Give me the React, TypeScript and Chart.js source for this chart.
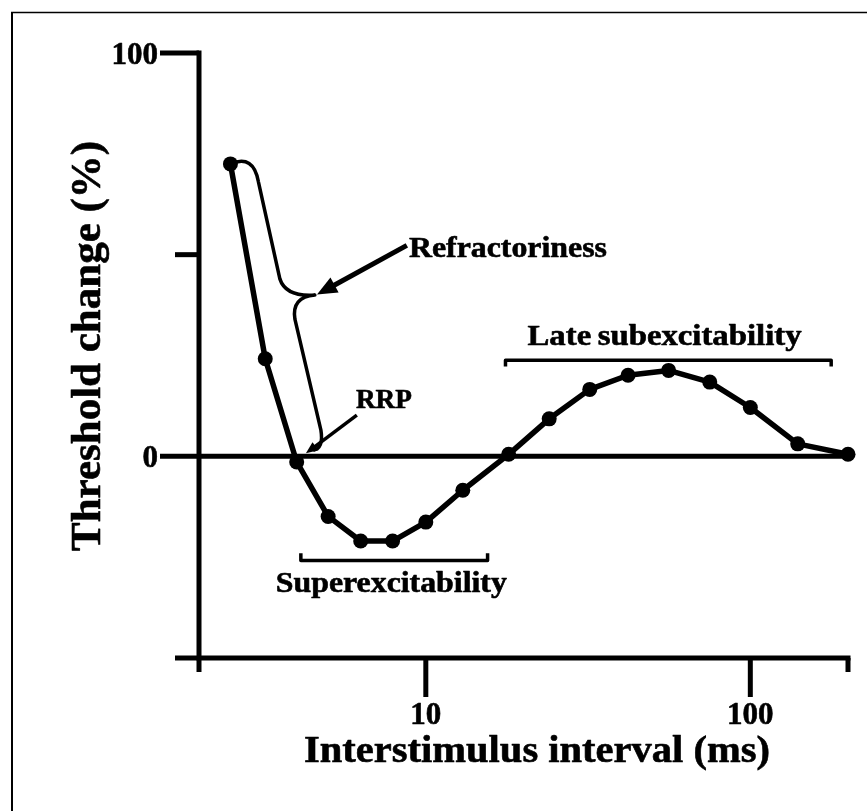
import React, { useEffect, useRef } from "react";
import { Chart, registerables } from "chart.js";

Chart.register(...registerables);

// Paired-pulse recovery cycle: threshold change vs interstimulus interval
const intervals = [2.5, 3.2, 4, 5, 6.3, 7.9, 10, 13, 18, 24, 32, 42, 56, 75, 100, 140, 200];
const thresholdChange = [72.5, 24.2, -1.4, -14.9, -21, -21, -16.3, -8.4, 0.5, 9.3, 16.6, 20.1, 21.3, 18.4, 12.1, 3.1, 0.5];

const xTicks = [2, 10, 100, 200];
const xTickLabels = ["", "10", "100", ""];
const yTicks = [100, 50, 0, -50];
const yTickLabels = ["100", "", "0", ""];

const xTitle = "Interstimulus interval (ms)";
const yTitle = "Threshold change (%)";

const FONT = '"Liberation Serif", "Times New Roman", serif';

type Ctx = CanvasRenderingContext2D;

function drawText(
  ctx: Ctx,
  text: string,
  x: number,
  y: number,
  size: number,
  align: CanvasTextAlign,
  width?: number
) {
  ctx.save();
  ctx.font = `bold ${size}px ${FONT}`;
  const natural = ctx.measureText(text).width;
  const sx = width ? width / natural : 1;
  ctx.translate(x, y);
  ctx.scale(sx, 1);
  ctx.textAlign = align;
  ctx.textBaseline = "alphabetic";
  ctx.fillStyle = "#000";
  ctx.strokeStyle = "#000";
  ctx.lineWidth = 0.6;
  ctx.lineJoin = "round";
  ctx.fillText(text, 0, 0);
  ctx.strokeText(text, 0, 0);
  ctx.restore();
}

function arrow(ctx: Ctx, x0: number, y0: number, x1: number, y1: number, lw: number, headLen: number, headW: number) {
  const ang = Math.atan2(y1 - y0, x1 - x0);
  const bx = x1 - Math.cos(ang) * headLen;
  const by = y1 - Math.sin(ang) * headLen;
  ctx.save();
  ctx.lineWidth = lw;
  ctx.lineCap = "butt";
  ctx.beginPath();
  ctx.moveTo(x0, y0);
  ctx.lineTo(bx + Math.cos(ang) * 2, by + Math.sin(ang) * 2);
  ctx.stroke();
  ctx.beginPath();
  ctx.moveTo(x1, y1);
  ctx.lineTo(bx + Math.sin(ang) * headW / 2, by - Math.cos(ang) * headW / 2);
  ctx.lineTo(bx - Math.sin(ang) * headW / 2, by + Math.cos(ang) * headW / 2);
  ctx.closePath();
  ctx.fill();
  ctx.restore();
}

const framePlugin = {
  id: "frame",
  beforeDatasetsDraw(chart: Chart) {
    const ctx = chart.ctx as Ctx;
    const xs = chart.scales.x;
    const ys = chart.scales.y;
    const px = (v: number) => xs.getPixelForValue(v);
    const py = (v: number) => ys.getPixelForValue(v);
    const left = px(2);
    const right = px(200);
    const top = py(100);
    const bottom = py(-50);

    ctx.save();
    ctx.strokeStyle = "#000";
    ctx.fillStyle = "#000";

    // figure frame (top and left edges)
    ctx.lineWidth = 1.5;
    ctx.beginPath();
    ctx.moveTo(11, 12.5);
    ctx.lineTo(867, 12.5);
    ctx.stroke();
    ctx.lineWidth = 2;
    ctx.beginPath();
    ctx.moveTo(12, 12);
    ctx.lineTo(12, 811);
    ctx.stroke();

    // axes
    ctx.lineWidth = 5;
    ctx.lineCap = "butt";
    ctx.beginPath();
    ctx.moveTo(left, top - 2.5);
    ctx.lineTo(left, bottom);
    ctx.moveTo(left - 2.5, bottom);
    ctx.lineTo(right + 2.5, bottom);
    ctx.stroke();

    // y ticks
    yTicks.forEach((v, i) => {
      const major = yTickLabels[i] !== "";
      const y = py(v);
      ctx.beginPath();
      ctx.moveTo(left - (major ? 39 : 24), y);
      ctx.lineTo(v === 0 ? right : left, y);
      ctx.stroke();
      if (major) drawText(ctx, yTickLabels[i], left - 41, y + 11, 31, "right");
    });

    // x ticks
    xTicks.forEach((v, i) => {
      const major = xTickLabels[i] !== "";
      const x = px(v);
      ctx.beginPath();
      ctx.moveTo(x, bottom);
      ctx.lineTo(x, bottom + (major ? 39 : 14));
      ctx.stroke();
      if (major) drawText(ctx, xTickLabels[i], x, bottom + 66, 31, "center");
    });

    // axis titles
    drawText(ctx, xTitle, 537, 762, 38, "center", 466);
    ctx.save();
    ctx.translate(100, 551);
    ctx.rotate(-Math.PI / 2);
    drawText(ctx, yTitle, 0, 0, 43, "left");
    ctx.restore();

    // refractoriness brace
    ctx.lineWidth = 3.5;
    ctx.lineJoin = "round";
    ctx.beginPath();
    ctx.moveTo(px(2.5), py(72.5));
    ctx.quadraticCurveTo(px(2.95), py(75), px(3.05), py(68));
    ctx.lineTo(px(3.55), py(44));
    ctx.quadraticCurveTo(px(3.7), py(39.5), px(4.55), py(40));
    ctx.quadraticCurveTo(px(3.85), py(39.5), px(3.95), py(34));
    ctx.lineTo(px(4.75), py(6.5));
    ctx.quadraticCurveTo(px(4.85), py(2), px(4.5), py(1.5));
    ctx.stroke();

    // arrows
    arrow(ctx, px(8.74), py(52.3), px(4.62), py(40.1), 5, 20, 17);
    arrow(ctx, px(6.13), py(10.2), px(4.27), py(0.74), 3.5, 12, 10);

    // superexcitability bracket
    ctx.lineWidth = 3.5;
    ctx.beginPath();
    ctx.moveTo(px(4.12), py(-24));
    ctx.lineTo(px(4.12), py(-25.8));
    ctx.lineTo(px(15.5), py(-25.8));
    ctx.lineTo(px(15.5), py(-24));
    ctx.stroke();

    // late subexcitability bracket
    ctx.beginPath();
    ctx.moveTo(px(17.6), py(22.3));
    ctx.lineTo(px(17.6), py(23.8));
    ctx.lineTo(px(177.5), py(23.8));
    ctx.lineTo(px(177.5), py(22.3));
    ctx.stroke();

    // annotation labels
    drawText(ctx, "Refractoriness", px(8.87), py(49.3), 30, "left", 198);
    drawText(ctx, "RRP", px(6.09), py(11.9), 28, "left", 56);
    drawText(ctx, "Superexcitability", px(7.83), py(-33.7), 29, "center", 231);
    drawText(ctx, "Late\u2009subexcitability", px(54.4), py(27.5), 29, "center", 274);

    ctx.restore();
  },
};

export default function App() {
  const ref = useRef<HTMLCanvasElement>(null);
  useEffect(() => {
    document.body.style.margin = "0";
    const canvas = ref.current!;
    const chart = new Chart(canvas, {
      type: "line",
      data: {
        datasets: [
          {
            data: intervals.map((x, i) => ({ x, y: thresholdChange[i] })),
            borderColor: "#000",
            backgroundColor: "#000",
            borderWidth: 5.5,
            borderJoinStyle: "round",
            pointRadius: 7.5,
            pointHoverRadius: 7.5,
            pointBackgroundColor: "#000",
            pointBorderWidth: 0,
            tension: 0,
            clip: false,
          } as any,
        ],
      },
      options: {
        responsive: false,
        animation: false,
        events: [],
        layout: { padding: { left: 199, right: 19, top: 53, bottom: 153 } },
        plugins: { legend: { display: false }, tooltip: { enabled: false } },
        scales: {
          x: { type: "logarithmic", min: 2, max: 200, display: false },
          y: { type: "linear", min: -50, max: 100, display: false },
        },
      },
      plugins: [framePlugin as any],
    });
    return () => chart.destroy();
  }, []);
  return <canvas ref={ref} width={867} height={811} style={{ display: "block" }} />;
}
